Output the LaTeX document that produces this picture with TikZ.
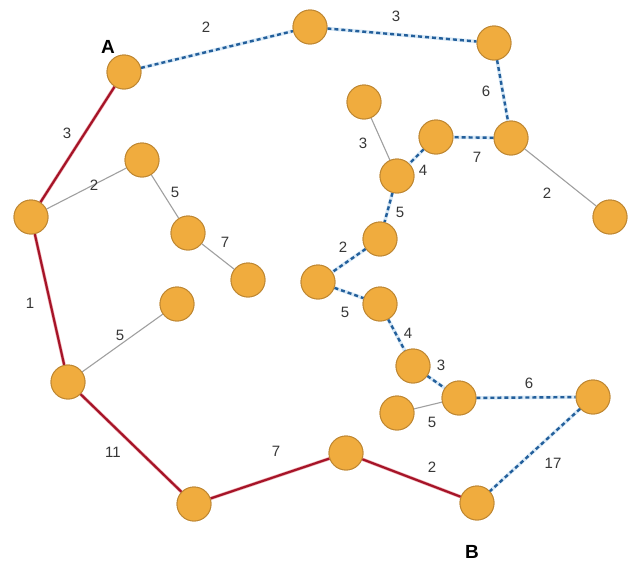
\documentclass[tikz,border=0pt]{standalone}
\usepackage{fontspec}
\setmainfont{Liberation Sans}
\begin{document}
\begin{tikzpicture}[x=1pt,y=-1pt,
  vtx/.style={circle,draw={rgb,255:red,190;green,135;blue,50},line width=0.9pt,fill={rgb,255:red,240;green,172;blue,62},minimum size=34pt,inner sep=0pt},
  redhalo/.style={draw={rgb,255:red,240;green,175;blue,180},line width=3.4pt},
  redpath/.style={draw={rgb,255:red,165;green,20;blue,40},line width=2.2pt},
  bluehalo/.style={draw={rgb,255:red,218;green,234;blue,247},line width=3.6pt},
  bluepath/.style={draw={rgb,255:red,35;green,95;blue,155},line width=2.4pt,dash pattern=on 4pt off 3pt},
  graypath/.style={draw={rgb,255:red,160;green,160;blue,160},line width=1.1pt},
  wlab/.style={font=\fontsize{15}{15}\selectfont,text={rgb,255:red,55;green,55;blue,55},inner sep=0pt},
  endlab/.style={font=\fontsize{19}{19}\selectfont\bfseries,inner sep=0pt}]
\useasboundingbox (0,0) rectangle (644,573);
\fill[white] (0,0) rectangle (644,573);
% node coordinates
\coordinate (pA) at (124,72);
\coordinate (pT1) at (310,27);
\coordinate (pT2) at (494,43);
\coordinate (pR1) at (511,138);
\coordinate (pFR) at (610,217);
\coordinate (pM1) at (436,137);
\coordinate (pM0) at (364,102);
\coordinate (pM2) at (397,176);
\coordinate (pM3) at (380,239);
\coordinate (pM4) at (318,282);
\coordinate (pM5) at (380,304);
\coordinate (pM6) at (413,366);
\coordinate (pM7) at (459,398);
\coordinate (pM8) at (397,413);
\coordinate (pM9) at (593,397);
\coordinate (pB) at (477,503);
\coordinate (pL5) at (346,453);
\coordinate (pL4) at (194,504);
\coordinate (pL3) at (68,382);
\coordinate (pL2) at (31,217);
\coordinate (pG1) at (142,160);
\coordinate (pG2) at (188,233);
\coordinate (pG3) at (248,280);
\coordinate (pG4) at (177,304);
% vertices (named, used as edge ends)
\foreach \n in {A,T1,T2,R1,FR,M1,M0,M2,M3,M4,M5,M6,M7,M8,M9,B,L5,L4,L3,L2,G1,G2,G3,G4}
  \node[vtx] (\n) at (p\n) {};
% edges
\path[graypath] (L2) -- (G1) (G1) -- (G2) (G2) -- (G3) (L3) -- (G4) (M0) -- (M2) (R1) -- (FR) (M8) -- (M7);
\path[redhalo] (A) -- (L2) (L2) -- (L3) (L3) -- (L4) (L4) -- (L5) (L5) -- (B);
\path[redpath] (A) -- (L2) (L2) -- (L3) (L3) -- (L4) (L4) -- (L5) (L5) -- (B);
\path[bluehalo] (A) -- (T1) (T1) -- (T2) (T2) -- (R1) (R1) -- (M1) (M1) -- (M2) (M2) -- (M3) (M3) -- (M4) (M4) -- (M5) (M5) -- (M6) (M6) -- (M7) (M7) -- (M9) (M9) -- (B);
\path[bluepath] (A) -- (T1) (T1) -- (T2) (T2) -- (R1) (R1) -- (M1) (M1) -- (M2) (M2) -- (M3) (M3) -- (M4) (M4) -- (M5) (M5) -- (M6) (M6) -- (M7) (M7) -- (M9) (M9) -- (B);
% redraw vertices on top
\foreach \n in {A,T1,T2,R1,FR,M1,M0,M2,M3,M4,M5,M6,M7,M8,M9,B,L5,L4,L3,L2,G1,G2,G3,G4}
  \node[vtx] at (p\n) {};
% labels
\node[endlab] (labA) at (108,47) {A};
\node[endlab] (labB) at (472,552) {B};
\node[wlab] (w1) at (206,27) {2};
\node[wlab] (w2) at (396,16) {3};
\node[wlab] (w3) at (486,91) {6};
\node[wlab] (w4) at (363,143) {3};
\node[wlab] (w5) at (423,170) {4};
\node[wlab] (w6) at (477,157) {7};
\node[wlab] (w7) at (547,193) {2};
\node[wlab] (w8) at (400,212) {5};
\node[wlab] (w9) at (343,247) {2};
\node[wlab] (w10) at (345,312) {5};
\node[wlab] (w11) at (408,333) {4};
\node[wlab] (w12) at (441,365) {3};
\node[wlab] (w13) at (529,383) {6};
\node[wlab] (w14) at (432,422) {5};
\node[wlab] (w15) at (553,463) {17};
\node[wlab] (w16) at (432,467) {2};
\node[wlab] (w17) at (276,451) {7};
\node[wlab] (w18) at (113,452) {11};
\node[wlab] (w19) at (120,335) {5};
\node[wlab] (w20) at (30,303) {1};
\node[wlab] (w21) at (67,133) {3};
\node[wlab] (w22) at (94,185) {2};
\node[wlab] (w23) at (175,192) {5};
\node[wlab] (w24) at (225,242) {7};
\end{tikzpicture}
\end{document}
